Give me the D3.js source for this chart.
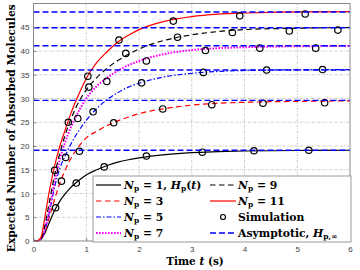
<!DOCTYPE html>
<html>
<head>
<meta charset="utf-8">
<script src="https://cdn.jsdelivr.net/npm/d3@7"></script>
<style>
body{margin:0;background:#fff;}
svg{display:block;}
</style>
</head>
<body>
<svg id="chart"></svg>
<script>
// time grid shared by all analytic curves (s)
var tGrid=[0,0.05,0.1,0.15,0.2,0.3,0.4,0.5,0.6,0.7,0.8,0.9,1.0,1.2,1.4,1.6,1.8,2.0,2.5,3.0,3.5,4.0,5.0,6.0];

// analytic H_p(t)
var hNp1=[0,0,0.1,0.5,1.3,3.9,6.4,8.4,9.9,11.2,12.2,13.1,13.9,15.0,15.9,16.6,17.1,17.5,18.2,18.6,18.8,18.95,19.05,19.1];
var hNp3=[0,0,0.1,0.5,1.5,5.0,8.8,12.2,14.9,17.2,19.0,20.5,21.7,23.1,24.3,25.3,26.1,26.8,27.9,28.6,29.0,29.2,29.4,29.5];
var hNp5=[0,0,0.1,0.5,1.6,6.0,11.4,15.3,17.9,20.2,22.2,23.9,25.4,27.9,29.8,31.25,32.4,33.2,34.6,35.3,35.7,35.9,36.05,36.1];
var hNp7=[0,0,0.1,0.6,2.0,6.5,12.5,17.2,20.8,23.7,26.1,28.2,30.0,32.6,34.4,35.85,37.0,37.9,39.4,40.2,40.6,40.8,41.0,41.05];
var hNp9=[0,0,0.1,0.6,2.5,8.2,13.9,18.5,22.3,25.4,28.0,30.1,31.8,34.4,36.4,38.0,39.3,40.4,42.3,43.4,44.1,44.5,44.8,44.95];
var hNp11=[0,0,0.2,1.0,4.0,10.5,15.8,20.0,23.4,26.6,29.4,31.9,34.2,37.6,39.9,41.9,43.3,44.5,46.3,47.25,47.75,48.0,48.25,48.3];

// simulation points
var simT1=[0.42,0.81,1.34,2.14,3.20,4.18,5.22], simY1=[7.0,12.2,15.6,17.9,18.7,19.0,19.1];
var simT3=[0.53,1.52,2.45,3.38,4.35,5.52], simY3=[12.6,24.9,27.8,28.7,29.0,29.1];
var simT5=[0.87,1.13,2.05,3.22,4.42,5.48], simY5=[18.9,27.2,33.3,35.5,36.0,36.1];
var simT7=[0.61,1.39,2.14,3.26,4.29,5.35], simY7=[17.6,33.6,37.9,40.1,40.6,40.6];
var simT9=[0.84,1.05,1.75,2.73,3.77,4.85,5.77], simY9=[25.8,32.4,39.5,42.9,43.9,44.2,44.4];
var simT11=[0.40,0.66,1.03,1.62,2.65,3.91,5.15], simY11=[14.9,25.0,34.7,42.3,46.3,47.4,47.8];

// asymptotic H_p,inf
var asymVals=[19.1,29.6,36.0,41.1,44.9,48.2];

var xTicks=[0,1,2,3,4,5,6];
var yTicks=[0,5,10,15,20,25,30,35,40,45];

var W=360,H=270;
var padL=33.5,padR=350,padT=3.5,padB=241;

var svg=d3.select('#chart').attr('width',W).attr('height',H);

var x=d3.scaleLinear().domain([0,6]).range([padL,padR]);
var y=d3.scaleLinear().domain([0,50]).range([padB,padT]);

// grid
var grid=svg.append('g');
grid.selectAll('line.gx').data(xTicks.slice(1,-1)).enter().append('line')
    .attr('x1',function(d){return x(d);}).attr('x2',function(d){return x(d);})
    .attr('y1',padT).attr('y2',padB)
    .attr('stroke','#b4b4b4').attr('stroke-width',0.8).attr('stroke-dasharray','2,1.5,0.8,1.5');
grid.selectAll('line.gy').data(yTicks.slice(1)).enter().append('line')
    .attr('x1',padL).attr('x2',padR)
    .attr('y1',function(d){return y(d);}).attr('y2',function(d){return y(d);})
    .attr('stroke','#b4b4b4').attr('stroke-width',0.8).attr('stroke-dasharray','2,1.5,0.8,1.5');

var curves=[
    {v:hNp1,color:'#000',dash:null,w:1.2},
    {v:hNp3,color:'#ff0000',dash:'5.5,3.5',w:1.2},
    {v:hNp5,color:'#0000ff',dash:'5,2,1.5,2',w:1.2},
    {v:hNp7,color:'#ff00ff',dash:'1.6,1.4',w:2},
    {v:hNp9,color:'#000',dash:'5.5,3.5',w:1.2},
    {v:hNp11,color:'#ff0000',dash:null,w:1.2}
];

var line=d3.line()
    .x(function(d){return x(d[0]);})
    .y(function(d){return y(d[1]);})
    .curve(d3.curveMonotoneX);

for(var i=0;i<curves.length;i+=1){
    var pts=[];
    for(var j=0;j<tGrid.length;j+=1){
        pts.push([tGrid[j],curves[i].v[j]]);
    }
    svg.append('path').datum(pts)
        .attr('d',line)
        .attr('fill','none')
        .attr('stroke',curves[i].color)
        .attr('stroke-width',curves[i].w)
        .attr('stroke-dasharray',curves[i].dash);
}

// simulation markers
var sims=[[simT1,simY1],[simT3,simY3],[simT5,simY5],[simT7,simY7],[simT9,simY9],[simT11,simY11]];
var simPts=[];
for(var i=0;i<sims.length;i+=1){
    for(var j=0;j<sims[i][0].length;j+=1){
        simPts.push([sims[i][0][j],sims[i][1][j]]);
    }
}
svg.selectAll('circle.sim').data(simPts).enter().append('circle')
    .attr('cx',function(d){return x(d[0]);})
    .attr('cy',function(d){return y(d[1]);})
    .attr('r',3.2)
    .attr('fill','none')
    .attr('stroke','#000')
    .attr('stroke-width',1.2);

// asymptotes
svg.selectAll('line.asym').data(asymVals).enter().append('line')
    .attr('x1',padL).attr('x2',padR)
    .attr('y1',function(d){return y(d);}).attr('y2',function(d){return y(d);})
    .attr('stroke','#0000ff').attr('stroke-width',1.4).attr('stroke-dasharray','6,3');

// frame + axes
svg.append('rect').attr('x',padL).attr('y',padT)
    .attr('width',padR-padL).attr('height',padB-padT)
    .attr('fill','none').attr('stroke','#888').attr('stroke-width',1);

var xAxis=svg.append('g').attr('transform','translate(0,'+padB+')')
    .call(d3.axisBottom(x).tickValues(xTicks).tickFormat(d3.format('d')).tickSizeInner(-3).tickSizeOuter(0).tickPadding(5));
var yAxis=svg.append('g').attr('transform','translate('+padL+',0)')
    .call(d3.axisLeft(y).tickValues(yTicks).tickFormat(d3.format('d')).tickSizeInner(-3).tickSizeOuter(0).tickPadding(4));
[xAxis,yAxis].forEach(function(a){
    a.select('.domain').remove();
    a.selectAll('line').attr('stroke','#888');
    a.selectAll('text').attr('fill','#444').style('font-family','Liberation Sans, Arial, sans-serif').style('font-size','8px');
});

var xl=svg.append('text')
    .attr('x',195).attr('y',265)
    .attr('text-anchor','middle')
    .style('font-family','DejaVu Serif, serif').style('font-weight','bold').style('font-size','10.5px');
xl.append('tspan').text('Time ');
xl.append('tspan').style('font-style','italic').text('t');
xl.append('tspan').text(' (s)');

svg.append('text')
    .attr('transform','translate(15,'+((padT+padB)/2+6)+') rotate(-90)')
    .attr('text-anchor','middle')
    .attr('textLength',248).attr('lengthAdjust','spacingAndGlyphs')
    .style('font-family','DejaVu Serif, serif').style('font-weight','bold').style('font-size','10.5px')
    .text('Expected Number of Absorbed Molecules');

// legend
var lg=svg.append('g');
lg.append('rect').attr('x',93).attr('y',176).attr('width',258).attr('height',66)
    .attr('fill','#fff').attr('stroke','#999').attr('stroke-width',1);

function mathText(px,py,parts){
    var t=lg.append('text').attr('x',px).attr('y',py)
        .style('font-family','DejaVu Serif, serif').style('font-weight','bold').style('font-size','10.8px');
    var sub=false;
    parts.forEach(function(p){
        var s=t.append('tspan').text(p.t);
        if(p.i) s.style('font-style','italic');
        if(p.s && !sub){ s.attr('dy',2.6).style('font-size','7.5px'); sub=true; }
        else if(p.s){ s.style('font-size','7.5px'); }
        else if(sub){ s.attr('dy',-2.6); sub=false; }
    });
}

var rowY=[185,201,217,233];
var col1=[
    {color:'#000',dash:null,w:1.2,parts:[{t:'N',i:1},{t:'p',s:1},{t:' = 1, '},{t:'H',i:1},{t:'p',s:1},{t:'('},{t:'t',i:1},{t:')'}]},
    {color:'#ff0000',dash:'5.5,3.5',w:1.2,parts:[{t:'N',i:1},{t:'p',s:1},{t:' = 3'}]},
    {color:'#0000ff',dash:'5,2,1.5,2',w:1.2,parts:[{t:'N',i:1},{t:'p',s:1},{t:' = 5'}]},
    {color:'#ff00ff',dash:'1.6,1.4',w:2,parts:[{t:'N',i:1},{t:'p',s:1},{t:' = 7'}]}
];
var col2=[
    {color:'#000',dash:'5.5,3.5',w:1.2,parts:[{t:'N',i:1},{t:'p',s:1},{t:' = 9'}]},
    {color:'#ff0000',dash:null,w:1.2,parts:[{t:'N',i:1},{t:'p',s:1},{t:' = 11'}]},
    {marker:true,parts:[{t:'Simulation'}]},
    {color:'#0000ff',dash:'6,3',w:1.4,parts:[{t:'Asymptotic, '},{t:'H',i:1},{t:'p,\u221e',s:1}]}
];

function legendCol(items,lx1,lx2,tx){
    for(var i=0;i<items.length;i+=1){
        var it=items[i];
        if(it.marker){
            lg.append('circle').attr('cx',(lx1+lx2)/2).attr('cy',rowY[i]).attr('r',2.5)
                .attr('fill','none').attr('stroke','#000').attr('stroke-width',1.2);
        } else {
            lg.append('line').attr('x1',lx1).attr('x2',lx2).attr('y1',rowY[i]).attr('y2',rowY[i])
                .attr('stroke',it.color).attr('stroke-width',it.w).attr('stroke-dasharray',it.dash);
        }
        mathText(tx,rowY[i]+3.7,it.parts);
    }
}
legendCol(col1,96,121,124);
legendCol(col2,210,236,238);
</script>
</body>
</html>
